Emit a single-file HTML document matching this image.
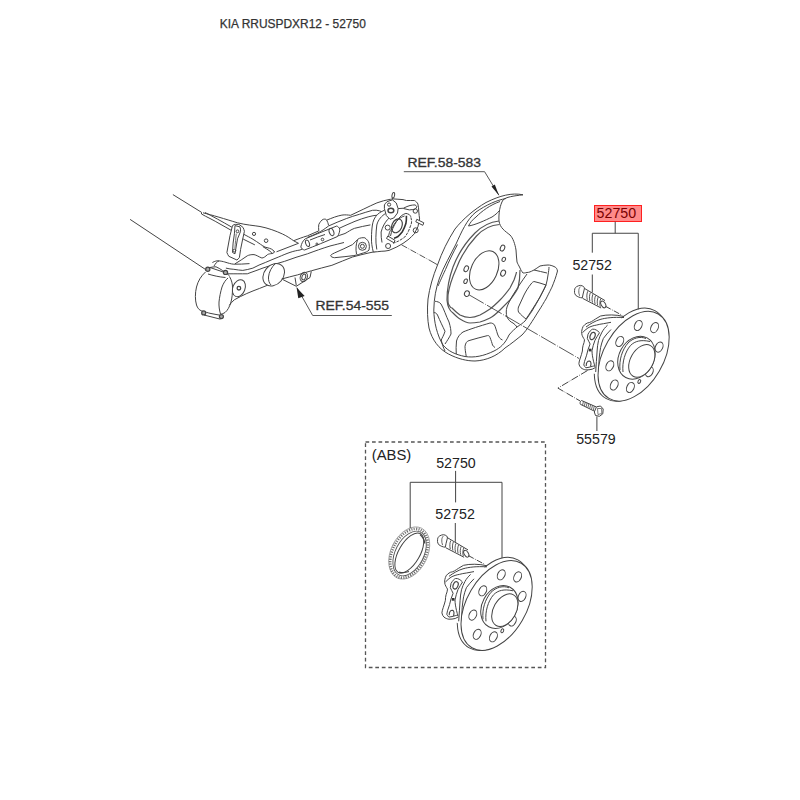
<!DOCTYPE html>
<html><head><meta charset="utf-8">
<style>
html,body{margin:0;padding:0;background:#fff;width:800px;height:800px;overflow:hidden}
svg{position:absolute;left:0;top:0}
text{font-family:"Liberation Sans",sans-serif}
</style></head><body>
<svg width="800" height="800" viewBox="0 0 800 800">
<g id="texts">
<text x="219.8" y="27.6" font-size="12" fill="#333" stroke="#333" stroke-width="0.25" textLength="146" lengthAdjust="spacingAndGlyphs">KIA RRUSPDXR12 - 52750</text>
<text x="407.5" y="166.6" font-size="13.4" fill="#333" stroke="#333" stroke-width="0.3" textLength="73.5" lengthAdjust="spacingAndGlyphs">REF.58-583</text>
<text x="315.5" y="310" font-size="13.2" fill="#333" stroke="#333" stroke-width="0.3" textLength="73.5" lengthAdjust="spacingAndGlyphs">REF.54-555</text>
<rect x="594.5" y="205.5" width="47" height="16" fill="#ff8a8a" stroke="#ff2020" stroke-width="1"/>
<text x="596.6" y="218.1" font-size="14.5" fill="#7a0000" textLength="39.5" lengthAdjust="spacingAndGlyphs">52750</text>
<text x="572.4" y="270" font-size="14.2" fill="#222" textLength="39.5" lengthAdjust="spacingAndGlyphs">52752</text>
<text x="576.2" y="444" font-size="14" fill="#222" textLength="39.5" lengthAdjust="spacingAndGlyphs">55579</text>
<text x="371.8" y="460.4" font-size="14" fill="#222" textLength="39.5" lengthAdjust="spacingAndGlyphs">(ABS)</text>
<text x="436.2" y="468.3" font-size="14" fill="#222" textLength="39.5" lengthAdjust="spacingAndGlyphs">52750</text>
<text x="435.3" y="519" font-size="14" fill="#222" textLength="39.5" lengthAdjust="spacingAndGlyphs">52752</text>
</g>
<g id="draw">
<g id="leaders" fill="none" stroke="#444" stroke-width="1">
<rect x="365.5" y="442" width="180" height="225.5" stroke="#555" stroke-dasharray="3.7 2.8" stroke-width="1.3"/>
</g>
<g id="arm" fill="none" stroke="#444" stroke-width="1">
<path d="M130.1 219.4 L206 269.8 M172.9 194.6 L201.5 212.3"/>
<path d="M205 212.5 C212 216 222 221.5 231.5 227 C237 230.5 240 232.5 243.6 234.2 C247 236 250 237.5 252 238.7 C255 240.5 258 242.5 260.5 244.3 C262 245.3 263.5 246.3 265 247.1 C266.5 247.6 268 248 269.5 248.3 C271 248.8 272 249.3 272.9 250 C273.7 250.7 274.2 251.5 274.6 252.2"/>
<path d="M201.5 212.3 L201.5 214 C204 215.5 207 217 210 218.5 C213.5 220.3 217 222.2 220 224 C224 226.2 228 228.5 231.5 230.5 C236 233.5 240 236.5 243.6 239.3 C247 241 251 243 254.9 244.9 M262.8 246.6 C265.5 248.2 268 249.8 270.6 251.6 L271.8 253.3"/>
<path d="M203 212.8 C212 215 225 219 237.5 222.8 C246 225 254 225.5 260 226.5 C268 228 276 231 282.5 234 C287 236 291 239 294 241 L298.5 243.3 L276.5 251.8"/>
<circle cx="254" cy="233.9" r="1.6"/><circle cx="266.1" cy="240.7" r="1.8"/>
<path d="M274.3 251.3 C274.5 252.5 273.5 253.3 272 253.5 C270 253.8 268.5 254 267.5 254.6 C265.5 256.5 263.5 258 261.9 258 C259 257 256.5 255 254 254.6 C251 254.5 249 255 247.3 255.8 C243 258.5 239.5 261.5 235 263.8"/>
<path d="M232.5 225.6 C233.5 224.8 234.5 224.4 235.6 224.4 C236.6 224.4 237.7 224.4 238.8 224.4 C240.3 225.3 241.8 226.3 243.1 227.5 C243.7 228.7 244.1 230 244.4 231.3 C243.8 234.2 243.1 237.1 242.5 240 C241.8 243.1 241.2 246.3 240.6 249.4 C240.2 252.1 239.8 254.8 239.4 257.5 C238.7 258.5 237.8 259.3 236.9 260 C234.2 258.8 231.5 257.5 228.8 256.3 C228 255.1 227.4 253.8 226.9 252.5 C227.9 246.9 228.9 241.2 230 235.6 C230.8 232.3 231.6 228.9 232.5 225.6 Z" fill="#fff"/>
<path d="M235 225.6 C236.7 226 238.4 226.4 240 226.9 C240.4 228.3 240.6 229.8 240.6 231.3 C239.6 233.8 238.5 236.3 237.5 238.8 C236.9 242.5 236.2 246.3 235.6 250 C235.4 251.3 235.2 252.5 235 253.8 C234.2 253.4 233.3 252.9 232.5 252.5 C232.7 249.4 232.9 246.2 233.1 243.1 C233.5 240 233.9 236.9 234.4 233.8 C234.6 231 234.8 228.3 235 225.6 Z"/>
<circle cx="237.5" cy="231.3" r="1.4"/><circle cx="234.4" cy="250.6" r="1.4"/>
<path d="M236.3 233.5 C235.8 238 235.3 243 234.9 248.5" stroke="#777"/>
<path d="M212.4 262.5 C215 261 217 260.8 218 260.8 C221 261 223 261.5 224.8 262 C228 263 231 264 233.8 264.2 C239 264.3 244 264 249.5 263.6"/>
<path d="M214 266 C215.5 263.5 217 261.5 219 261"/>
<path d="M225.9 268.1 C229 268.8 231 269.2 233.8 269.3 C237 269.8 240 270.3 242.8 270.4 C246 270 249.5 269 252.9 268.1 C257 266 261 264 265.3 262.5 C270 260.5 274 258.8 278.8 256.9 C282 255.5 286 253.8 290 252.4 C294 251 297 250.5 300 250 C307 247 315 244.5 322.5 241.8 C330 239 337 236 345 233.5 C348 232 351 229.5 354.6 228.3 C360 227 365 225.8 370.4 224.9"/>
<path d="M228 273.8 C235 273.8 241 273.8 247.3 273.8 C252 272 258 270 263 268 C270 265.5 277 263.5 284.4 261.4 C292 258.5 300 256 307.5 253.8 C315 251 322 248.5 330 246 C336 244.5 340 243.5 344 242.5"/>
<path d="M205.5 272 C201 276 198 281 196.5 287 C195 293 195 300 196.5 305 C197.5 308 199 310 201.8 311 C205 312 208 312.8 210 313.3 C214 314 218 315 222 315.5"/>
<path d="M205.5 270.5 C207 268.5 208.5 267.8 210 267.5 C212 267 214 266.8 216 266.8 C220 268.5 225 272 229.5 275.8"/>
<path d="M210 267.5 C215 269.5 221 271 225.8 272.8 M208 274 C213 275.5 219 277 225.5 277.5"/>
<path d="M229.5 276.5 C231.5 280 232.7 284 232.5 288 C232.5 294 232 298 231 302 C229.5 307 227.5 310.5 225 312.5 C223.5 313.5 222 314 220.5 314 C219.3 310 218.8 306 219 302 C219.5 297 220.5 292 222 287 C223.5 283 225.5 280 228 278"/>
<circle cx="207.8" cy="269.3" r="2.1" fill="#aaa" stroke-width="1.2"/><circle cx="225.5" cy="272.4" r="2.1" fill="#aaa" stroke-width="1.2"/>
<path d="M204 315 L220.5 319.2"/>
<circle cx="203.7" cy="312.9" r="2" fill="#aaa" stroke-width="1.2"/><circle cx="221.4" cy="316.6" r="2" fill="#aaa" stroke-width="1.2"/>
<ellipse cx="238.9" cy="288.2" rx="6.1" ry="8.8" transform="rotate(22 238.9 288.2)" fill="#fff"/>
<circle cx="238.9" cy="288.2" r="1.8" stroke-width="1.3"/>
<path d="M229.3 305.4 C231 303 232.5 301.5 234.3 299.8 C238.5 297.5 242.5 295.5 246.8 293.5 C251 291.8 255 290 259.3 288.5 C262.5 287.3 265.5 286 268.6 284.8"/>
<ellipse cx="273.7" cy="274.8" rx="12.3" ry="9.6" transform="rotate(-49.6 273.7 274.8)" fill="#fff"/>
<path d="M275.5 263.5 C271.5 267 269 272 268.5 277 C268.3 280 269 283 271 285"/>
<path d="M281.7 279 C287 277.5 292 276.3 297.5 274.9 C302 273.5 307 272 311.3 270.8 C318 269 325 267 331.9 265.3 C339 262.5 346 259.5 352.5 257 C358 255.5 364 254 369 252.9 L375.9 251.5"/>
<path d="M330.5 255.6 C331.5 254.5 333 253.5 334.6 252.9 C341 250 347 247.5 352.5 244.6 C354.5 243 356 241 358 239.1 C360 237.8 362.5 237.5 364.9 237.8 C367 239.5 368.5 241 369 243.3 C369.5 245.5 369.5 248 369 250.1 C367.5 251.5 365.5 252.5 363.5 252.9 C360.5 254 357 255 353.9 255.6 C347 256.5 341 257 334.6 257.7 C332.5 257.5 331 256.8 330.5 255.6 Z" fill="#fff"/>
<path d="M357.5 240 C356 244 355.5 249 356.5 254"/>
<circle cx="362.4" cy="246.3" r="4"/><circle cx="362.4" cy="246.3" r="2"/>
<path d="M294 240.6 C298 239 302 237.5 307.5 235.8 C311 234.3 315 232.5 318.8 230.9 C318.5 228.5 318.5 226.5 318.8 224.5 C320 222 321.5 220 323.3 219.3 C324.5 219 325.5 219 326.3 219.6 C327.5 221.5 328.3 223.5 328.5 225.3 M327 220 C332 218 337 216 341.9 215.1 C345 214.6 348 215 350.6 215.3 C355 213.5 359 211 363.8 209 C368 207 372.5 204.8 376.9 202.9 C381 201.3 386 200 390.6 199.2"/>
<path d="M307.5 237.3 C315 234.5 321 232 328.5 226 C334 223.5 340 221 346.3 218.6 C350.5 217 355 215.5 359.4 214.3 C363.5 213 368 211.5 372.5 210.3 C375 210 377.5 210.2 379.5 210.8 C381 211.3 382 211.8 383.5 212.8"/>
<path d="M339.3 228.3 C344 226 350 223.5 355 221.3 C359.5 219.5 364 218 368.1 216.9 C371.5 216 374.5 215.3 377.8 215.1 C379 215.2 380.3 215.5 381.5 216.2"/>
<path d="M300.8 247 C301.5 248.5 303 249.8 304.5 250 C315 246 326 241.5 337.5 236.5 C339 234 339.8 231.5 339.8 229 C339 227.5 338 226.5 336.8 226 C326 230 316 234.5 305.3 238.8 C303 240.5 301.5 243.5 300.8 247 Z" fill="#fff"/>
<ellipse cx="307.5" cy="243.3" rx="1.8" ry="3.4" transform="rotate(-20 307.5 243.3)"/>
<ellipse cx="331.5" cy="232" rx="2.2" ry="3.8" transform="rotate(-20 331.5 232)"/>
<circle cx="322.5" cy="239.5" r="1.3"/><circle cx="316.9" cy="244" r="1"/>
<path d="M310 240 C315 238 320 236 325 234.5"/>
<path d="M282.5 279.4 L296.3 286.3 L310 277.5 L311.3 271.3 M295 277.5 L296.3 285.5"/>
<ellipse cx="303.8" cy="277" rx="3.5" ry="4.8" transform="rotate(20 303.8 277)"/>
<ellipse cx="303.8" cy="277" rx="1.8" ry="3" transform="rotate(20 303.8 277)"/>
</g>
<g id="knuckle" fill="none" stroke="#444" stroke-width="1">
<path d="M373.3 252 C372 247 371.3 242 371.5 238 C371.5 233 371.8 229 372.4 225 C373 221 374.3 218.5 375.9 216.3 C378 213.5 380.5 212 382.9 211 C384 210.5 385 210 385.5 209 C385 207.5 384.6 206.5 384.6 205.8 C386 204 387.5 202.8 389 202.3 C390 200.5 391 199.5 391.6 198.8 C395 199 399 199.3 403 199.6 C404.5 200 405.5 200.3 406.5 200.5 C409 200.5 411.5 200.5 414.4 200.5 C416 201.5 417.3 202.5 417.9 204 C418.5 206.5 418.7 209 418.8 211.9 C419 214.5 419.3 216.5 419.6 218.9 C419 221.5 418.5 224 417.9 226.8 C416.5 229 415.5 231.5 414.4 233.8 C412.5 235.5 410.8 237.3 409.1 239 C407 240.5 405 242 403 243.4 C401 244.5 399 245.8 396.9 246.9 C394.5 248 391.5 249.3 389 250.4 C386.5 251 383.5 251.3 381.1 251.3 C378.5 251.5 376 252 373.3 252 Z" fill="#fff"/>
<path d="M376.8 249.5 C376 245 375.8 241 375.9 237.3 C376 233 376.3 229 376.8 225 C377.5 222 378.8 220 380.3 218 C382 216 383.8 214.5 385.5 213.6"/>
<path d="M382 242.5 C381.3 239 381 235.5 381.1 232 C381.8 229.5 382.7 227 383.8 225 C385 223 386 221.3 387.3 219.8 C389 218 390.8 216.5 392.5 215.4"/>
<path d="M384.4 204.9 C385.2 203.7 386 202.6 386.9 201.8 C388.7 201 390.6 200.4 392.5 199.9 C393.8 200.9 395 201.9 396.3 203 C396.9 204.9 397.5 206.7 398.1 208.6 C397.9 210.1 397.7 211.5 397.5 213 C396.3 214.7 395 216.3 393.8 218 C392.5 218.4 391.3 218.8 390 219.3 C388.8 218 387.5 216.8 386.3 215.5 C385.6 213.2 385 210.9 384.4 208.6 Z" fill="#fff"/>
<circle cx="389.1" cy="204.6" r="1.6"/><ellipse cx="390.9" cy="210.5" rx="2.9" ry="2.3" stroke-width="1.5"/>
<path d="M403.8 208 C406 207 408 206 410 205.5 C411.7 205.2 413.3 204.9 415 204.9 C416 205.4 416.6 206 416.9 206.8 C416.4 207.7 415.7 208.5 415 209.3 C413 209.5 411.3 209.7 409.4 209.9 C407.5 209.5 405.6 209 403.8 208.6 Z M398.1 208.6 L403.8 208.2"/>
<circle cx="415.3" cy="211" r="2.2"/>
<path d="M388.5 238 C388.7 234 389.5 231 391.8 228.6 C393 226 394.5 223.5 396.3 221.3 C398 219 399.5 217.3 401.4 215.7 C403 214.5 404.5 213.8 405.9 213.4 C407 213.5 408.2 214 409.3 214.6 C410 215.3 410.5 216 410.9 216.8"/>
<path d="M406.4 215.7 C406.5 218.5 406.4 221 405.9 223.6 C405 226.5 404 229 402.5 231.4 C401 233.3 399.5 235 398 236.5 C396.8 237.3 395.4 237.9 394 238.2" stroke-width="1.6" stroke="#333"/>
<path d="M410.9 217.4 C411.5 219 411.7 221 411.5 223 C410.5 226 409.5 229 408.1 232 C407 233.8 406 235.5 404.8 237 C402.8 238.5 400.7 239.8 398.6 241 C396.8 241.8 395 242.6 393 243.3" stroke-dasharray="3 1"/>
<path d="M390.5 236 C391.5 231 393.5 226 396.5 221.5 C399 218.5 401.5 216.8 404.5 216"/>
<ellipse cx="396.9" cy="225.8" rx="5" ry="7.3" transform="rotate(25 396.9 225.8)" stroke-width="1.2"/>
<circle cx="387.7" cy="227.6" r="2.5"/><circle cx="388.1" cy="246" r="2.5"/>
<circle cx="415.7" cy="230.3" r="2.5"/>
<path d="M386.5 238.5 L387.8 236 L395 240.3 L394 242.8 Z M415.8 221.8 L416.8 219.3 L423.8 222.8 L422.8 225.3 Z" fill="#fff"/>
<ellipse cx="393.3" cy="195.3" rx="1.3" ry="2.8" transform="rotate(10 393.3 195.3)"/>
<path d="M392.8 198 L392.3 199.5"/>
</g>
<g id="armleaders" fill="none" stroke="#444" stroke-width="0.9">
<path d="M296.9 287.6 L312.7 315.5 H391.8"/>
<path d="M296.6 287.4 L298.3 298.3 L304.6 296 Z" fill="#222" stroke="none"/>
<path d="M401.5 244.8 L430 260.5" stroke-dasharray="6.5 1.5 0.8 1.5" stroke="#444"/>
</g>
<g id="shield" fill="none" stroke="#444" stroke-width="1">
<path d="M523 194.8 C512 192.5 500 195.5 486 202.5 C474 209.5 463 219 455 229 C448 240 442 252 437.5 265 C433 276 429.5 288 428 299 C427 310 427.5 320 429 328 C432 340 439 349 448.5 354 C458 359 467 361 475 361 C486 360.5 497 356 505 348 C511 344 517 339 522 335 C527 330 533 320 538 312 C542 306 544 302 546 299 C549 293 551 289 552 287 C554 282 556 277 557.5 271 C557 268.5 556 267.5 555 267 C552 265.5 550 265 548 265 C545 265 542.5 265.5 540 266 C537 268 535 269.5 533 270.5 C531 271.5 529 272.5 527 272.5 C525 273 524 273 523 273 C521.5 271 520.5 269.5 520 268 C518.5 265 517.5 263.5 517 262 C516.5 258 516.3 254 516 250 C515 244 513 238 510 235 C505 231 500 228 499 221 C498.5 213 500 205 503 200 C506 197 513 196 523 194.8 Z" fill="#fff"/>
<path d="M506 198.5 C497 200 486 205 476 212 C467 219 461 233 456 244 C451 254 444 266 439.5 278 C436 288 434 298 433.8 310 C434 322 437 335 443 345 C448 351 455 354.5 465 356.5 C474 358 484 356 494 351 C500 348 505 344 509 335 C512 331 515 329 517 327 C520 325 523 323 525 321 C528 317 530 314 532 311 C535 306 538 301 540 297 C542 293 544.5 289 546 285 C547 282 547.5 278 548 275 C548.5 272 549 269 549 267"/>
<path d="M534 270 C538 271 543 272 547 273"/>
<path d="M500 201.5 C490 205 482 211 476 217 C472 220 470 223 468.5 226 C475 225 485 220.5 492 217 C495 215 497.5 213 499 211"/>
<path stroke="#555" stroke-width="1.2" d="M499 221 C490 222 482 226 475 233 C466 242 458 254 453 267 C449 278 447 290 447 300 C447.5 306 450 311 453 313 C456 316 458 318 460 319 C464 321.5 467 323 470 323 C474 323 477 322.5 480 322 C484 321 487 319.5 490 318 C494 316 497 313 500 310 C504 306 507 303 510 300 C513 296 516 292 518 288 C519.5 282 520 276 520 270"/>
<path stroke="#555" stroke-width="1.2" d="M499.5 224.5 C491 225 483 229 476.5 236 C468 245 461 256 456.5 268 C452 278 449 287 448 295 C447.8 300 448 304 449 305 C450 307 451 308 452 308 C455 311 457 313 460 315 C463 316.5 466 317.5 470 317.5 C473.5 317.5 477 316.3 480 315 C484 313 487 311 490 309 C494 306 497 303 500 300 C504 296 507 292 510 288 C511.5 285 513 282 514 280 C515 277 516 275 516.5 272"/>
<path d="M457.5 244.5 C453 253 449 261 445.5 269.5 C442 277 440 281.5 438 286"/>
<ellipse cx="484.2" cy="270.3" rx="20.7" ry="13.1" transform="rotate(-65.2 484.2 270.3)"/>
<ellipse cx="502.5" cy="248.1" rx="2.1" ry="3.1" transform="rotate(25 502.5 248.1)"/>
<ellipse cx="503.75" cy="259.4" rx="1.7" ry="2.2" transform="rotate(25 503.75 259.4)"/>
<ellipse cx="503.1" cy="273.1" rx="2.3" ry="3.2" transform="rotate(25 503.1 273.1)"/>
<ellipse cx="466.25" cy="268.75" rx="2.1" ry="3.1" transform="rotate(25 466.25 268.75)"/>
<ellipse cx="465.6" cy="281.25" rx="1.6" ry="2.4" transform="rotate(25 465.6 281.25)"/>
<ellipse cx="466.9" cy="293.6" rx="2.4" ry="2.9" transform="rotate(25 466.9 293.6)"/>
<path d="M433.8 312.5 C435 312.5 436.5 313 437.5 315 C440 321 443 327 445 331.25 C444 335 442 338 441.25 340 C442 344 443.5 348 445 351"/>
<path d="M435 301.25 C437 301.5 439.5 302 441 304 C444 309 446 316 449 322 C450.5 327 451 330 451 334 C449 338 447 341 445 344"/>
<path d="M456.25 354 C456 350 456 345 456.5 341 C457.5 337 460 334 463 332 C470 329 480 326 490 323 C492 322.8 494 324 494.5 325 C495.5 327 496.5 331 497.5 334 C498.5 337 500 339 502.5 340"/>
<path d="M466.25 356.5 C465.5 352 465 349 465 346.25 C465.5 343 467 341 469 340.6 C475 339 481 337 487.5 335.6 C489 335.5 489.5 336 490 337.5 C491 340 492 343 492.5 345 C493 346 494 347 495 347.5"/>
<path d="M527 274 C524.5 277.5 522 281 520 284 C517.5 288 515 291.5 513 295 C510.5 299 508.5 303 507 307 C506 310 506 314 507 317 C508.5 320 510.5 322 513 323 C514.5 324 516 325.5 517 327"/>
<path d="M534 281.5 C538 282.5 542 283.5 546 285 C544 289 542 293 540 297 C537 302 533.5 307.5 530 313 C528.5 315 527.5 317 526 319 C523.5 317 521 315 518.5 312 C518 310.5 518 308.5 518.5 307 C520.5 303 522 299 524 295 C526 291 528.5 287 531 284 C532 282.5 533 281.8 534 281.5 Z"/>
</g>
<g id="shieldleaders" fill="none" stroke="#444" stroke-width="0.9">
<path d="M403.8 171.7 H484.6 L498.9 195.2"/>
<path d="M491.5 186.5 L494.8 184.5 L499 195.5 Z" fill="#222" stroke="none"/>
<path d="M430 260.5 L437.5 264.8" stroke="#444"/>
<path d="M469 294.8 L579 358.5" stroke-dasharray="17 1.5 0.8 1.5" stroke="#444"/>
</g>
<g id="hub" fill="none" stroke="#444" stroke-width="1">
<ellipse cx="630.6" cy="354.6" rx="30.8" ry="50.3" transform="rotate(28.9 630.6 354.6)"/>
<path d="M622.5 316 L600 376 L590 372 L579 364 L580 355 L583 347 L582 334 L592 321.5 Z" fill="#fff" stroke="none"/>
<path d="M624 316.5 C616 314.5 607 314.5 600.6 316 C597 318 594 320 591.5 321.6 C590 322.5 588.5 322.8 587.3 323 C585.5 324 584 325 583.1 326.5 C582 329 581.5 331 581.7 333.5 C582 336 583.5 338 584.5 339.8 C584.5 341.5 583.8 343.5 583.1 345.4 C582.6 347 582.4 349 582.4 351 C581.8 353.5 581 356 580.3 358 C579.6 360 579 362 578.9 363.6 C579.2 365.5 580 366.8 581 367.8 C582.5 369 584 369.6 585.9 369.9 C588 370 590 369.7 592.2 369.2 L595.5 367.5"/>
<path d="M582.4 332.8 C584 331 586 329.3 588 327.9 C590.5 326.5 593.5 325.5 596.4 325.1 C598.5 324.5 601 324 603.4 323.7 C606 323.2 608.5 322.8 611 322.3"/>
<path d="M586 327 C590 324 595 321 600 319.5 C606 317.8 613 317 624 317.5"/>
<path d="M588 334.2 C589.5 331.5 591 329.8 592.5 329.2 C595 328.8 597.5 330.5 599.5 332.7 C598 335 596.5 337.5 595 340.2 C593.8 343.5 592.6 347 592 350.7 C592 354 592.7 357.5 593.5 361.2 C594 363.2 594.5 365.2 595 366.5 C594.2 365.9 593.3 366 592.2 366.4 C590 367 588 367.6 585.9 367.8 C585 367 584.3 366 583.8 365 C584 363.8 584.2 362.6 584.5 361.5 C585.2 359.4 585.9 357.3 586.6 355.2 C587 353.3 587.5 351.4 588 349.6 C588.7 347.8 589.4 345.9 590.1 344 C589.2 342 588.2 340.2 587.3 338.4 C587.5 337 587.8 335.6 588 334.2 Z"/>
<ellipse cx="592.6" cy="336" rx="2.4" ry="3.8" transform="rotate(20 592.6 336)" stroke-width="1.2"/>
<rect x="588.8" y="348.7" width="2.7" height="2.7" fill="#333" stroke="none"/>
<path d="M586.2 366 C586.2 363 587.5 361 589.5 361 C591.2 361.5 591.3 364 590.5 366.5" stroke-width="1.1"/>
<path d="M607.6 325.1 C605 327.5 603.5 329.5 602 332.1 C600.5 335 599.3 337.5 598.5 340.5 C597.7 344 597.3 347.5 597.1 351 C596.8 354.5 596.6 358 596.4 361.5 C596.1 365 595.9 368.5 595.7 372"/>
<path d="M611 329.5 C608 332.5 605.5 335.5 603.4 338.4 C602.2 341.5 601.2 344.5 600.6 347.5 C600 351 599.5 354.5 599.2 358 C598.9 362.5 598.7 367 598.5 372"/>
<ellipse cx="633.6" cy="356.2" rx="29.7" ry="48.9" transform="rotate(30.3 633.6 356.2)" fill="#fff"/>
<ellipse cx="636.4" cy="357.7" rx="22.5" ry="17.4" transform="rotate(-61.6 636.4 357.7)"/>
<path d="M620 370 C619 360 622 350 628 343 C633 338 640 336 646 338.5"/>
<path d="M623 372 C622 362 625 352 630.5 345.5 C635 341 641 339.5 650 341.5"/>
<ellipse cx="649.4" cy="371.8" rx="3.5" ry="5.2" transform="rotate(25 649.4 371.8)"/>
<ellipse cx="641.8" cy="360.9" rx="11.3" ry="17.6" transform="rotate(29.6 641.8 360.9)" fill="#fff"/>
<g>
<ellipse cx="638.25" cy="325.5" rx="3.6" ry="5.3" transform="rotate(25 638.25 325.5)"/>
<ellipse cx="654.6" cy="327.6" rx="3.6" ry="5.3" transform="rotate(25 654.6 327.6)"/>
<ellipse cx="659.1" cy="347.1" rx="3.6" ry="5.3" transform="rotate(25 659.1 347.1)"/>
<ellipse cx="619.75" cy="341.5" rx="3.6" ry="5.3" transform="rotate(25 619.75 341.5)"/>
<ellipse cx="609.8" cy="365.8" rx="3.6" ry="5.3" transform="rotate(25 609.8 365.8)"/>
<ellipse cx="614.2" cy="385" rx="3.6" ry="5.3" transform="rotate(25 614.2 385)"/>
<ellipse cx="630.4" cy="387.5" rx="3.6" ry="5.3" transform="rotate(25 630.4 387.5)"/>
<ellipse cx="639.3" cy="381.5" rx="1.3" ry="2" transform="rotate(25 639.3 381.5)"/>
</g>
<!-- stud -->
<path d="M583.6 287.9 L605 300.6 M582.7 298.4 L601.1 308" />
<path d="M574.8 288.8 C575.5 287.5 576 287 576.6 286.6 C578 285.8 579.3 285.5 580.5 285.4 C581.8 285.6 582.8 286 583.6 286.6 C584.2 287.3 584.5 288 584.4 288.8 C584 290.5 583.5 292.3 583.1 294 C582.8 295.3 582.5 296.6 582.3 297.9 C581 297.8 579.9 297.5 578.8 297.1 C577.7 296.6 576.6 296 575.7 295.3 C575 294.3 574.6 293.3 574.5 292.3 C574.5 291 574.6 289.8 574.8 288.8 Z" fill="#fff"/>
<path d="M580.5 286.6 C579.3 287.8 578.8 289.2 578.8 290.5 C578.6 292.3 578.9 294 579.6 295.8" stroke-width="0.8"/>
<ellipse cx="603.3" cy="304.4" rx="2.1" ry="3.7" transform="rotate(-30 603.3 304.4)" fill="#fff"/>
<path d="M587.8 291.2 C586.8 293.5 586.5 296.5 587.3 299.8 M590.4 292.6 C589.4 295 589.1 298 589.9 301.2 M593 294.1 C592 296.5 591.7 299.5 592.5 302.6 M595.6 295.6 C594.6 298 594.3 301 595.1 304 M598.2 297.1 C597.2 299.5 596.9 302.5 597.7 305.4 M600.8 298.6 C599.8 301 599.5 304 600.3 306.8" stroke-width="0.9"/>
</g>
<g id="screw" fill="none" stroke="#444" stroke-width="1">
<!-- screw -->
<path d="M581.5 400.5 L596 406.8 M580.4 404.3 L594.5 411.2" />
<path d="M581.5 400.5 C580 401.2 579.8 403.3 580.4 404.3"/>
<path d="M583.5 401.3 L582.5 405.2 M585.3 402.1 L584.3 406 M587.1 402.9 L586.1 406.8 M588.9 403.7 L587.9 407.6 M590.7 404.5 L589.7 408.4 M592.5 405.3 L591.5 409.3 M594.3 406.1 L593.3 410.2" stroke-width="0.8"/>
<path d="M596.5 406.8 L600.5 406 L603.2 409 L602.8 413.8 L599.5 416.3 L595.5 415.5 L594.3 412 Z" fill="#fff"/>
<path d="M597.5 408.5 L601.5 408.5 L601.8 413.5 L598 414.5 Z" stroke-width="0.7"/>
</g>
<g transform="translate(-137 249.3)">
<g fill="none" stroke="#444" stroke-width="1">
<ellipse cx="630.6" cy="354.6" rx="30.8" ry="50.3" transform="rotate(28.9 630.6 354.6)"/>
<path d="M622.5 316 L600 376 L590 372 L579 364 L580 355 L583 347 L582 334 L592 321.5 Z" fill="#fff" stroke="none"/>
<path d="M624 316.5 C616 314.5 607 314.5 600.6 316 C597 318 594 320 591.5 321.6 C590 322.5 588.5 322.8 587.3 323 C585.5 324 584 325 583.1 326.5 C582 329 581.5 331 581.7 333.5 C582 336 583.5 338 584.5 339.8 C584.5 341.5 583.8 343.5 583.1 345.4 C582.6 347 582.4 349 582.4 351 C581.8 353.5 581 356 580.3 358 C579.6 360 579 362 578.9 363.6 C579.2 365.5 580 366.8 581 367.8 C582.5 369 584 369.6 585.9 369.9 C588 370 590 369.7 592.2 369.2 L595.5 367.5"/>
<path d="M582.4 332.8 C584 331 586 329.3 588 327.9 C590.5 326.5 593.5 325.5 596.4 325.1 C598.5 324.5 601 324 603.4 323.7 C606 323.2 608.5 322.8 611 322.3"/>
<path d="M586 327 C590 324 595 321 600 319.5 C606 317.8 613 317 624 317.5"/>
<path d="M588 334.2 C589.5 331.5 591 329.8 592.5 329.2 C595 328.8 597.5 330.5 599.5 332.7 C598 335 596.5 337.5 595 340.2 C593.8 343.5 592.6 347 592 350.7 C592 354 592.7 357.5 593.5 361.2 C594 363.2 594.5 365.2 595 366.5 C594.2 365.9 593.3 366 592.2 366.4 C590 367 588 367.6 585.9 367.8 C585 367 584.3 366 583.8 365 C584 363.8 584.2 362.6 584.5 361.5 C585.2 359.4 585.9 357.3 586.6 355.2 C587 353.3 587.5 351.4 588 349.6 C588.7 347.8 589.4 345.9 590.1 344 C589.2 342 588.2 340.2 587.3 338.4 C587.5 337 587.8 335.6 588 334.2 Z"/>
<ellipse cx="592.6" cy="336" rx="2.4" ry="3.8" transform="rotate(20 592.6 336)" stroke-width="1.2"/>
<rect x="588.8" y="348.7" width="2.7" height="2.7" fill="#333" stroke="none"/>
<path d="M586.2 366 C586.2 363 587.5 361 589.5 361 C591.2 361.5 591.3 364 590.5 366.5" stroke-width="1.1"/>
<path d="M607.6 325.1 C605 327.5 603.5 329.5 602 332.1 C600.5 335 599.3 337.5 598.5 340.5 C597.7 344 597.3 347.5 597.1 351 C596.8 354.5 596.6 358 596.4 361.5 C596.1 365 595.9 368.5 595.7 372"/>
<path d="M611 329.5 C608 332.5 605.5 335.5 603.4 338.4 C602.2 341.5 601.2 344.5 600.6 347.5 C600 351 599.5 354.5 599.2 358 C598.9 362.5 598.7 367 598.5 372"/>
<ellipse cx="633.6" cy="356.2" rx="29.7" ry="48.9" transform="rotate(30.3 633.6 356.2)" fill="#fff"/>
<ellipse cx="636.4" cy="357.7" rx="22.5" ry="17.4" transform="rotate(-61.6 636.4 357.7)"/>
<path d="M620 370 C619 360 622 350 628 343 C633 338 640 336 646 338.5"/>
<path d="M623 372 C622 362 625 352 630.5 345.5 C635 341 641 339.5 650 341.5"/>
<ellipse cx="649.4" cy="371.8" rx="3.5" ry="5.2" transform="rotate(25 649.4 371.8)"/>
<ellipse cx="641.8" cy="360.9" rx="11.3" ry="17.6" transform="rotate(29.6 641.8 360.9)" fill="#fff"/>
<g>
<ellipse cx="638.25" cy="325.5" rx="3.6" ry="5.3" transform="rotate(25 638.25 325.5)"/>
<ellipse cx="654.6" cy="327.6" rx="3.6" ry="5.3" transform="rotate(25 654.6 327.6)"/>
<ellipse cx="659.1" cy="347.1" rx="3.6" ry="5.3" transform="rotate(25 659.1 347.1)"/>
<ellipse cx="619.75" cy="341.5" rx="3.6" ry="5.3" transform="rotate(25 619.75 341.5)"/>
<ellipse cx="609.8" cy="365.8" rx="3.6" ry="5.3" transform="rotate(25 609.8 365.8)"/>
<ellipse cx="614.2" cy="385" rx="3.6" ry="5.3" transform="rotate(25 614.2 385)"/>
<ellipse cx="630.4" cy="387.5" rx="3.6" ry="5.3" transform="rotate(25 630.4 387.5)"/>
<ellipse cx="639.3" cy="381.5" rx="1.3" ry="2" transform="rotate(25 639.3 381.5)"/>
</g>
<!-- stud -->
<path d="M583.6 287.9 L605 300.6 M582.7 298.4 L601.1 308" />
<path d="M574.8 288.8 C575.5 287.5 576 287 576.6 286.6 C578 285.8 579.3 285.5 580.5 285.4 C581.8 285.6 582.8 286 583.6 286.6 C584.2 287.3 584.5 288 584.4 288.8 C584 290.5 583.5 292.3 583.1 294 C582.8 295.3 582.5 296.6 582.3 297.9 C581 297.8 579.9 297.5 578.8 297.1 C577.7 296.6 576.6 296 575.7 295.3 C575 294.3 574.6 293.3 574.5 292.3 C574.5 291 574.6 289.8 574.8 288.8 Z" fill="#fff"/>
<path d="M580.5 286.6 C579.3 287.8 578.8 289.2 578.8 290.5 C578.6 292.3 578.9 294 579.6 295.8" stroke-width="0.8"/>
<ellipse cx="603.3" cy="304.4" rx="2.1" ry="3.7" transform="rotate(-30 603.3 304.4)" fill="#fff"/>
<path d="M587.8 291.2 C586.8 293.5 586.5 296.5 587.3 299.8 M590.4 292.6 C589.4 295 589.1 298 589.9 301.2 M593 294.1 C592 296.5 591.7 299.5 592.5 302.6 M595.6 295.6 C594.6 298 594.3 301 595.1 304 M598.2 297.1 C597.2 299.5 596.9 302.5 597.7 305.4 M600.8 298.6 C599.8 301 599.5 304 600.3 306.8" stroke-width="0.9"/>
</g>
</g>
<g id="hubleaders" fill="none" stroke="#444" stroke-width="1">
<path d="M615.2 221.7 V233.25 M592.3 233.25 H638.25 V309.3 M592.3 233.25 V252.7 M592.3 274.5 V292.5"/>
<path d="M605.4 306.25 L621.6 315" stroke-dasharray="6 1.4 0.8 1.4" stroke="#444"/>
<path d="M587.5 370.5 L557.9 388.1 L580 400.9" stroke-dasharray="7.5 1.4 0.8 1.4" stroke="#444"/>
<path d="M596.9 416.5 V431"/>
</g>
<g id="abs" fill="none" stroke="#444" stroke-width="1">
<ellipse cx="409.2" cy="553.0" rx="18.3" ry="27.7" transform="rotate(26.5 409.2 553.0)" stroke-width="0.7" stroke="#888"/>
<ellipse cx="409" cy="553.3" rx="16.5" ry="26" transform="rotate(26.5 409 553.3)" stroke-width="2.6" stroke-dasharray="1.1 1.3" stroke="#6a6a6a"/>
<ellipse cx="409.6" cy="553.5" rx="14.2" ry="24" transform="rotate(27 409.6 553.5)" stroke-width="0.9" stroke="#555"/>
<ellipse cx="409.3" cy="553" rx="10.6" ry="22.3" transform="rotate(30 409.3 553)"/>
<path d="M420 534.5 C423 537 424.3 540 424.8 543.5 M399 572 C402.5 573 406 572.5 409 571.5" stroke-width="1.3"/>
</g>
<g id="absleaders" fill="none" stroke="#444" stroke-width="1">
<path d="M468.4 555.6 L484.6 564.3" stroke-dasharray="6 1.4 0.8 1.4" stroke="#444"/>
<path d="M455.6 470.9 V482.3 M410.2 482.3 H502 V558 M410.2 482.3 V528.3 M455.6 482.3 V502.4 M455.3 523 V541.9"/>
</g>
</g>
</svg>
</body></html>
